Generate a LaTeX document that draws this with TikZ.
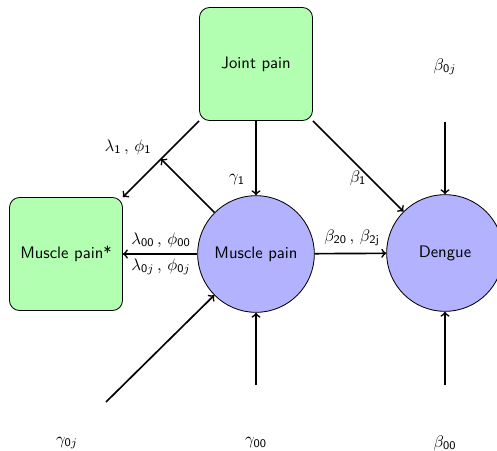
\documentclass[tikz,border=0pt]{standalone}
\usetikzlibrary{calc}
\renewcommand{\familydefault}{\sfdefault}
\begin{document}
\begin{tikzpicture}[x=0.6pt,y=-0.6pt,
  boxnode/.style={draw=black,line width=0.5pt,fill=green!30,rounded corners=6pt,minimum width=67.8pt,minimum height=67.8pt,inner sep=0pt,font=\sffamily},
  circnode/.style={draw=black,line width=0.5pt,fill=blue!30,circle,minimum size=70pt,inner sep=0pt,font=\sffamily},
  lab/.style={inner sep=1pt},
  arr/.style={->,line width=1pt}]
\useasboundingbox (0,0) rectangle (497,451);
\node[boxnode] (jp) at (256,64) {Joint pain};
\node[boxnode] (mps) at (66,254) {Muscle pain*};
\node[circnode] (mp) at (256,254) {Muscle pain};
\node[circnode] (dg) at (445,253) {Dengue};
\node[lab] (b0j) at (445,67) {$\beta_{\mathsf{0}j}$};
\node[lab] (b00) at (445,443) {$\beta_{\mathsf{00}}$};
\node[lab] (g00) at (256,443) {$\gamma_{\mathsf{00}}$};
\node[lab] (g0j) at (67,443) {$\gamma_{\mathsf{0}j}$};
\coordinate (b0js) at (445,122);
\coordinate (b00s) at (445,385);
\coordinate (g00s) at (256,385);
\coordinate (g0js) at (106,402);
\coordinate (mid) at ($(jp.south west)!0.5!(mps.north east)$);
\draw[arr] (jp.south west) -- (mps.north east);
\draw[arr] (mp) -- (mid);
\draw[arr] (jp) -- (mp);
\draw[arr] (jp.south east) -- (dg);
\draw[arr] (mp) -- (mps);
\draw[arr] (mp) -- (dg);
\draw[arr] (b0js) -- (dg);
\draw[arr] (b00s) -- (dg);
\draw[arr] (g00s) -- (mp);
\draw[arr] (g0js) -- (mp);
\node[lab] (l1) at (128,147) {$\lambda_{\mathsf{1}}\,,\,\phi_{\mathsf{1}}$};
\node[lab] (gm1) at (237,180) {$\gamma_{\mathsf{1}}$};
\node[lab] (bt1) at (358,178) {$\beta_{\mathsf{1}}$};
\node[lab] (l00) at (161,240) {$\lambda_{\mathsf{00}}\,,\,\phi_{\mathsf{00}}$};
\node[lab] (l0j) at (161,267) {$\lambda_{\mathsf{0}j}\,,\,\phi_{\mathsf{0}j}$};
\node[lab] (b20) at (352,238) {$\beta_{\mathsf{20}}\,,\,\beta_{\mathsf{2j}}$};
\end{tikzpicture}
\end{document}
